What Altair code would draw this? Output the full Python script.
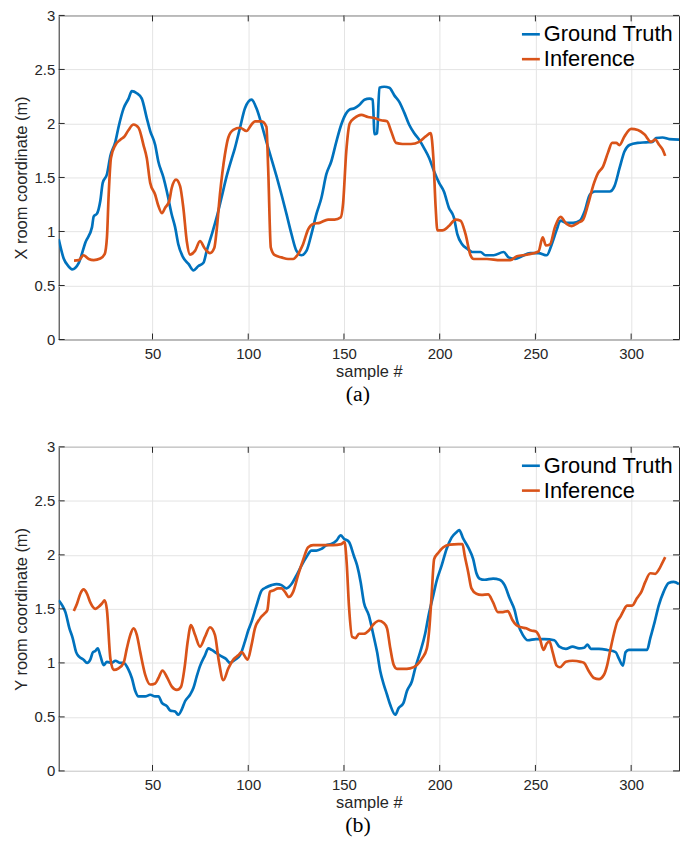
import altair as alt
import pandas as pd

# ---------------- data ----------------
series_names = ["Ground Truth", "Inference"]
series_colors = ["#0072BD", "#D95319"]
x_ticks = [50, 100, 150, 200, 250, 300]
y_ticks = [0, 0.5, 1, 1.5, 2, 2.5, 3]

# panel (a): X room coordinate
gt_x_sample = [1, 3.6, 6, 8, 11.5, 15, 18.4, 19.3, 21, 22.7, 24, 26.2, 28, 30.6, 32.3, 34.9, 37.5, 39.2,
               41.8, 44.4, 47, 48.8, 51.4, 53, 55.7, 57.5, 60, 61.8, 63.5, 66, 68.8, 71.4, 74, 76.6, 78.3,
               81, 83.5, 86, 88.7, 91.3, 93, 95.7, 98.3, 101.7, 104.3, 107, 109.5, 112, 114.8, 117.4, 120,
               122.6, 125.2, 127.8, 130.4, 133, 135.6, 138.2, 140.8, 143.4, 146, 148.6, 151, 153, 155.5,
               158, 160.7, 163.3, 165, 166, 167.3, 168.5, 171, 173.7, 176.3, 178.9, 181.5, 184, 186.7,
               189.3, 191.9, 194.5, 197, 199.7, 202.2, 204.8, 207.4, 209.2, 211.8, 214.4, 217, 221.3,
               223.9, 228.2, 233.4, 236, 239.4, 242.9, 247.2, 251.6, 255.9, 258.5, 261, 263.1, 266.3,
               269.7, 273.2, 275.8, 278.4, 281, 285.3, 288.8, 291.3, 294, 296.5, 299.1, 303.5, 307.8,
               311.2, 313, 316.4, 319.9, 325]
gt_x_value = [0.93, 0.75, 0.68, 0.65, 0.71, 0.9, 1.04, 1.14, 1.165, 1.28, 1.45, 1.53, 1.70, 1.83, 1.97,
              2.14, 2.23, 2.30, 2.28, 2.23, 2.05, 1.93, 1.80, 1.65, 1.50, 1.37, 1.16, 1.04, 0.88, 0.76,
              0.70, 0.64, 0.68, 0.71, 0.82, 0.975, 1.13, 1.31, 1.51, 1.67, 1.77, 1.96, 2.14, 2.22, 2.14,
              1.99, 1.83, 1.68, 1.51, 1.34, 1.16, 0.975, 0.82, 0.78, 0.82, 0.975, 1.16, 1.31, 1.53, 1.65,
              1.83, 1.99, 2.09, 2.13, 2.14, 2.17, 2.22, 2.23, 2.22, 1.90, 1.91, 2.33, 2.34, 2.33, 2.26,
              2.20, 2.10, 1.99, 1.91, 1.85, 1.77, 1.68, 1.56, 1.45, 1.37, 1.22, 1.13, 0.975, 0.88, 0.84,
              0.81, 0.81, 0.78, 0.78, 0.81, 0.76, 0.745, 0.77, 0.80, 0.80, 0.78, 0.88, 1.01, 1.10, 1.08,
              1.08, 1.10, 1.19, 1.34, 1.37, 1.37, 1.37, 1.42, 1.59, 1.74, 1.80, 1.82, 1.825, 1.83, 1.865,
              1.87, 1.855, 1.85]

inf_x_sample = [9, 11.5, 14, 16.7, 19.3, 22.7, 25, 26.2, 27.1, 28.3, 30.6, 33.2, 35.4, 37.5, 40.1, 42.7,
                45.3, 47, 48.8, 51.4, 53, 54.9, 56.6, 58.7, 60, 62.3, 64.4, 66.1, 67.9, 69.6, 72.2, 74.8,
                77.4, 80, 82.3, 83.5, 85.2, 87.8, 89.6, 92.2, 95.7, 99.1, 101.7, 103.5, 107, 109.5, 110.4,
                111.8, 113.9, 117.4, 120.8, 123.4, 126, 128.6, 131.3, 133.9, 137.3, 141.7, 145.1, 148.3,
                149.5, 151.2, 153, 155.5, 159, 162.5, 165.9, 169.4, 172.5, 174.6, 177.2, 180.6, 185,
                189.3, 192.7, 195.3, 196.7, 197.9, 198.8, 201.4, 204.8, 208.3, 210.9, 213.5, 216.1,
                217.8, 224.7, 231.7, 236.9, 240.3, 245.5, 251.6, 253.8, 255.5, 257.6, 260.2, 263.1,
                266.3, 268.9, 272.3, 274.9, 277.5, 280.1, 282.7, 285.3, 287.9, 290.1, 292.2, 293.9,
                296.5, 300, 303.5, 306.9, 310.4, 312.6, 314.7, 316.4, 317.8]
inf_x_value = [0.73, 0.735, 0.78, 0.745, 0.735, 0.75, 0.79, 0.945, 1.34, 1.68, 1.80, 1.85, 1.88, 1.94,
               1.99, 1.96, 1.80, 1.68, 1.45, 1.34, 1.24, 1.17, 1.22, 1.28, 1.40, 1.48, 1.42, 1.22, 0.91,
               0.785, 0.82, 0.91, 0.84, 0.80, 0.85, 1.01, 1.34, 1.71, 1.87, 1.94, 1.96, 1.93, 1.99, 2.02,
               2.02, 1.97, 1.59, 0.85, 0.78, 0.76, 0.745, 0.745, 0.79, 0.88, 1.02, 1.07, 1.08, 1.11, 1.11,
               1.13, 1.25, 1.74, 2.00, 2.05, 2.08, 2.06, 2.05, 2.03, 2.02, 1.93, 1.82, 1.81, 1.81, 1.83,
               1.88, 1.91, 1.68, 1.22, 1.01, 1.01, 1.05, 1.11, 1.10, 0.975, 0.78, 0.745, 0.745, 0.735,
               0.735, 0.77, 0.785, 0.815, 0.945, 0.87, 0.88, 1.04, 1.135, 1.07, 1.05, 1.08, 1.11, 1.25,
               1.42, 1.54, 1.60, 1.73, 1.82, 1.82, 1.80, 1.88, 1.95, 1.94, 1.90, 1.83, 1.85, 1.80, 1.76,
               1.70]

# panel (b): Y room coordinate
gt_y_sample = [1, 2.9, 4.5, 6.6, 8.3, 10.1, 11.5, 14, 15.8, 17.5, 18.9, 20.1, 21.4, 22.7, 24.5, 26.2,
               28.8, 30.6, 33.2, 34.9, 37.5, 39.2, 41, 42.7, 46.2, 48.8, 51.4, 53.1, 54.9, 57.5, 59.2,
               61.8, 63.5, 65.3, 67, 69.6, 71.4, 73.1, 74.8, 77.4, 79.2, 80.9, 83.5, 86.1, 88.2, 90.5,
               93.1, 95.7, 98.3, 100, 101.7, 104.3, 107, 109.5, 112.2, 114.8, 117.4, 120, 122.6, 125.2,
               127.8, 130.4, 133, 135.6, 138.2, 140.8, 143.4, 146, 148.3, 150, 152.6, 155.2, 156.9,
               158.7, 160.4, 163, 165.6, 167.3, 169, 170.8, 172.5, 174.2, 176.8, 178.5, 181.1, 182.9,
               185.5, 187.2, 189.8, 192.4, 194.1, 196.7, 198.4, 201, 203.6, 206.2, 208.8, 210.2, 212.3,
               214.9, 217.5, 219.2, 220.9, 223.5, 227.9, 231.3, 233.9, 236.5, 239.1, 240.8, 243.4, 246,
               250.3, 254.7, 259.9, 262.5, 265.9, 269.4, 272.8, 275.4, 277.2, 278.9, 283.2, 287.5,
               291.9, 293.6, 295.7, 297.1, 298.8, 303.1, 308.3, 310, 312.3, 314.4, 317, 319.6, 322.2, 325]
gt_y_value = [1.58, 1.53, 1.47, 1.32, 1.23, 1.10, 1.06, 1.03, 1.00, 1.03, 1.10, 1.11, 1.135, 1.07, 0.98,
              1.01, 1.00, 1.02, 1.00, 1.00, 0.935, 0.86, 0.74, 0.69, 0.69, 0.705, 0.69, 0.69, 0.63, 0.60,
              0.56, 0.55, 0.52, 0.57, 0.645, 0.705, 0.77, 0.875, 0.97, 1.07, 1.135, 1.12, 1.09, 1.06, 1.04,
              1.00, 1.03, 1.07, 1.20, 1.30, 1.38, 1.53, 1.67, 1.70, 1.72, 1.73, 1.72, 1.69, 1.73, 1.81,
              1.90, 1.98, 2.04, 2.04, 2.055, 2.09, 2.10, 2.13, 2.18, 2.15, 2.12, 1.99, 1.90, 1.75, 1.56,
              1.44, 1.24, 1.10, 0.92, 0.80, 0.705, 0.61, 0.52, 0.58, 0.63, 0.74, 0.83, 0.95, 1.10, 1.27,
              1.43, 1.63, 1.76, 1.90, 2.055, 2.16, 2.21, 2.23, 2.15, 2.07, 1.96, 1.83, 1.78, 1.77, 1.78,
              1.77, 1.72, 1.60, 1.49, 1.365, 1.26, 1.21, 1.22, 1.22, 1.21, 1.15, 1.13, 1.15, 1.135, 1.14,
              1.17, 1.13, 1.13, 1.12, 1.10, 1.04, 0.975, 1.10, 1.12, 1.12, 1.12, 1.23, 1.38, 1.53, 1.66,
              1.74, 1.75, 1.73]

inf_y_sample = [8.9, 10.6, 12.3, 14, 15.8, 17.5, 20.1, 21.9, 23.6, 25, 26.2, 28, 29.7, 32.3, 34.9, 36.6,
                38.4, 40.1, 41.8, 43.6, 46.2, 48.8, 51.4, 53.1, 55.2, 57.5, 60.1, 62.7, 64.9, 66.7, 68.4,
                70.1, 72.2, 74.8, 77.4, 80, 82.6, 84.7, 87, 89.6, 92.2, 94.8, 96.5, 99.7, 101.7, 103.5,
                106.1, 108.7, 110, 111.3, 113, 115.6, 117.4, 119.1, 121.2, 123.5, 126, 128.6, 131.3,
                133.9, 139.1, 144.3, 148.6, 150.3, 151.4, 152.6, 154.3, 156.1, 157.8, 160.4, 163, 165.6,
                168.2, 170.8, 172.5, 174.2, 176, 177.7, 181.1, 184.6, 188.1, 190.7, 193.3, 194.6, 195.8,
                197.1, 199.3, 201.9, 205.4, 209.7, 211.9, 213.1, 214.9, 216.6, 219.2, 221.8, 225.3,
                227.9, 230.4, 233, 235.6, 237.9, 240, 242.6, 245.2, 247.8, 250.3, 252.1, 254.2, 255.9,
                257.3, 259, 261.1, 262.8, 265.9, 269.4, 273.7, 275.4, 278, 280.6, 283.2, 285.8, 287.5,
                289.3, 291, 292.7, 294.5, 296.2, 297.9, 300.5, 303.1, 305.4, 307.4, 310, 312.6, 314.7,
                316.1, 317.8]
inf_y_value = [1.48, 1.55, 1.64, 1.68, 1.64, 1.56, 1.50, 1.52, 1.55, 1.58, 1.49, 1.04, 0.935, 0.95, 1.00,
               1.135, 1.26, 1.32, 1.26, 1.10, 0.89, 0.80, 0.81, 0.86, 0.93, 0.87, 0.78, 0.75, 0.78, 0.95,
               1.20, 1.35, 1.26, 1.15, 1.24, 1.33, 1.26, 1.01, 0.84, 0.95, 1.03, 1.07, 1.10, 1.03, 1.165,
               1.32, 1.41, 1.46, 1.49, 1.66, 1.67, 1.69, 1.69, 1.66, 1.61, 1.66, 1.81, 1.95, 2.07, 2.09,
               2.09, 2.09, 2.10, 2.12, 1.93, 1.53, 1.24, 1.23, 1.27, 1.27, 1.30, 1.36, 1.39, 1.37, 1.32,
               1.135, 0.98, 0.945, 0.945, 0.95, 0.98, 1.04, 1.135, 1.32, 1.63, 1.96, 2.02, 2.07, 2.095,
               2.10, 2.10, 1.99, 1.84, 1.69, 1.64, 1.63, 1.635, 1.56, 1.47, 1.47, 1.48, 1.40, 1.35, 1.33,
               1.32, 1.30, 1.29, 1.24, 1.12, 1.18, 1.20, 1.10, 0.975, 0.96, 1.01, 1.02, 1.01, 1.00, 0.92,
               0.86, 0.85, 0.89, 0.98, 1.135, 1.27, 1.38, 1.43, 1.49, 1.53, 1.53, 1.60, 1.66, 1.75, 1.83,
               1.825, 1.87, 1.92, 1.98]

# ---------------- layout / style ----------------
W, H = 624, 326
TICK = 6
BOX = "#262626"
SANS = "Liberation Sans"


def panel(gt_s, gt_v, inf_s, inf_v, ytitle, caption):
    df = pd.DataFrame({
        "sample": list(gt_s) + list(inf_s),
        "value": list(gt_v) + list(inf_v),
        "series": [series_names[0]] * len(gt_s) + [series_names[1]] * len(inf_s),
    })
    xscale = alt.Scale(domain=[1, 325], nice=False, zero=False)
    yscale = alt.Scale(domain=[0, 3], nice=False, zero=False)
    xaxis = alt.Axis(values=x_ticks, title="sample #", labelPadding=7, titlePadding=2)
    yaxis = alt.Axis(values=y_ticks, format="~g", title=ytitle, labelPadding=4, titlePadding=5)

    lines = alt.Chart(df).mark_line(strokeWidth=2.7, interpolate="monotone", clip=True).encode(
        x=alt.X("sample:Q", scale=xscale, axis=xaxis),
        y=alt.Y("value:Q", scale=yscale, axis=yaxis),
        color=alt.Color("series:N",
                        scale=alt.Scale(domain=series_names, range=series_colors),
                        legend=alt.Legend(orient="none", legendX=464, legendY=8, direction="vertical",
                                          title=None, symbolType="stroke", symbolSize=324,
                                          symbolStrokeWidth=2.6, labelFontSize=22, labelFont=SANS,
                                          labelColor="black", labelOffset=2, rowPadding=3, padding=0)),
    )

    xt = pd.DataFrame({"sample": x_ticks})
    yt = pd.DataFrame({"value": y_ticks})
    tick_bottom = alt.Chart(xt).mark_rule(color=BOX, strokeWidth=1).encode(
        x=alt.X("sample:Q", scale=xscale, axis=xaxis), y=alt.value(H), y2=alt.value(H - TICK))
    tick_top = alt.Chart(xt).mark_rule(color=BOX, strokeWidth=1).encode(
        x=alt.X("sample:Q", scale=xscale, axis=xaxis), y=alt.value(0), y2=alt.value(TICK))
    tick_left = alt.Chart(yt).mark_rule(color=BOX, strokeWidth=1).encode(
        y=alt.Y("value:Q", scale=yscale, axis=yaxis), x=alt.value(0), x2=alt.value(TICK))
    tick_right = alt.Chart(yt).mark_rule(color=BOX, strokeWidth=1).encode(
        y=alt.Y("value:Q", scale=yscale, axis=yaxis), x=alt.value(W), x2=alt.value(W - TICK))

    return alt.layer(lines, tick_bottom, tick_top, tick_left, tick_right).properties(
        width=W, height=H,
        title=alt.TitleParams(text=caption, orient="bottom", font="Liberation Serif", fontSize=22,
                              fontWeight="normal", color="black", offset=4, anchor="middle",
                              frame="group", dx=-11),
    )


top = panel(gt_x_sample, gt_x_value, inf_x_sample, inf_x_value, "X room coordinate (m)", "(a)")
bottom = panel(gt_y_sample, gt_y_value, inf_y_sample, inf_y_value, "Y room coordinate (m)", "(b)")

chart = alt.vconcat(top, bottom, spacing=108, bounds="flush").resolve_legend(
    color="independent"
).properties(
    padding={"left": 4, "top": -3, "right": 0, "bottom": 0},
    background="white",
).configure_view(
    stroke=BOX, strokeWidth=1
).configure_axis(
    domain=False, ticks=False, grid=True, gridColor="#e4e4e4", gridWidth=1,
    labelFont=SANS, labelFontSize=15, labelColor=BOX,
    titleFont=SANS, titleFontSize=16.5, titleFontWeight="normal", titleColor=BOX,
)

chart.save("out.html", embed_options={"renderer": "svg", "actions": False})
